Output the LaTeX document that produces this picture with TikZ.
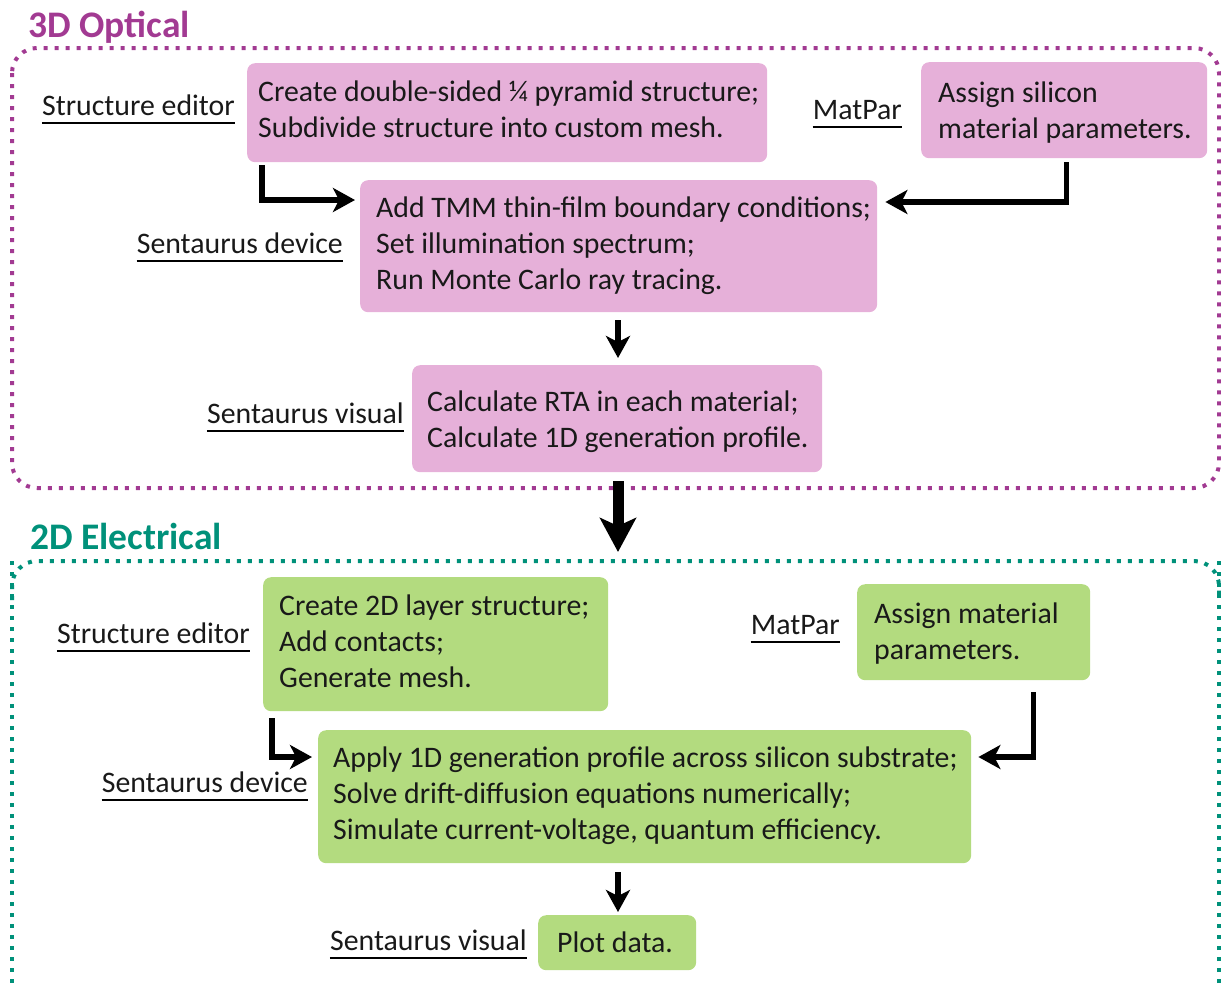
\documentclass[tikz,border=0pt]{standalone}
\usepackage{fontspec}
\setmainfont{Carlito}
\usetikzlibrary{arrows.meta,calc}
\definecolor{optc}{HTML}{A23A92}
\definecolor{elec}{HTML}{00917A}
\definecolor{pinkbox}{HTML}{E6B0D9}
\definecolor{greenbox}{HTML}{B3DB7F}
\tikzset{
  box/.style={anchor=north west, rounded corners=8pt, inner sep=0pt},
  pbox/.style={box, fill=pinkbox},
  gbox/.style={box, fill=greenbox},
  txt/.style={anchor=west, align=left, inner sep=0pt, font=\fontsize{29.8}{36}\selectfont, text=black!90},
  lbl/.style={anchor=base east, inner sep=0pt, font=\fontsize{29.8}{36}\selectfont, text=black!90},
  frame/.style={line width=4pt, dash pattern=on 4pt off 7pt, rounded corners=25pt},
  ttl/.style={anchor=base west, inner sep=0pt, font=\fontsize{37.5}{40}\selectfont\bfseries},
  arr/.style={line width=5.5pt, line join=miter, -{Stealth[length=22pt,width=24pt,inset=6pt]}},
  bigarr/.style={line width=11pt, -{Stealth[length=34pt,width=36pt,inset=8pt]}}
}
\newcommand{\uline}[1]{\draw[line width=2pt] ([yshift=-8pt]#1.base west) -- ([yshift=-8pt]#1.base east);}
\begin{document}
\begin{tikzpicture}[x=1pt,y=-1pt]
\useasboundingbox (0,0) rectangle (1221,983);
% ---------- 3D Optical ----------
\node[ttl, text=optc] (t1) at (28,37) {3D Optical};
\draw[frame, draw=optc] (12,48) rectangle (1219,488);

\node[pbox, minimum width=520, minimum height=99] (A1) at (247,63) {};
\node[txt] (A1t) at ([xshift=11pt,yshift=3pt]A1.west)
  {Create double-sided ¼ pyramid structure;\\Subdivide structure into custom mesh.};
\node[pbox, minimum width=286, minimum height=96] (A2) at (921,62) {};
\node[txt] (A2t) at ([xshift=17pt,yshift=-2pt]A2.west)
  {Assign silicon\\material parameters.};
\node[pbox, minimum width=517, minimum height=132] (B) at (360,180) {};
\node[txt] (Bt) at ([xshift=16pt,yshift=0pt]B.west)
  {Add TMM thin-film boundary conditions;\\Set illumination spectrum;\\Run Monte Carlo ray tracing.};
\node[pbox, minimum width=410, minimum height=107] (C) at (412,365) {};
\node[txt] (Ct) at ([xshift=15pt,yshift=-3pt]C.west)
  {Calculate RTA in each material;\\Calculate 1D generation profile.};

\node[lbl] (l1) at (235,115) {Structure editor}; \uline{l1}
\node[lbl] (l2) at (902,119) {MatPar}; \uline{l2}
\node[lbl] (l3) at (343,253) {Sentaurus device}; \uline{l3}
\node[lbl] (l4) at (404,423) {Sentaurus visual}; \uline{l4}

\draw[arr] ([xshift=15pt,yshift=-3pt]A1.south west) |- ([xshift=-5pt,yshift=-20pt]B.north west);
\draw[arr] ([xshift=-141pt,yshift=-4pt]A2.south east) |- ([xshift=8pt,yshift=-22pt]B.north east);
\draw[arr] ([xshift=258pt,yshift=-8pt]B.south west) -- ([yshift=7pt]C.north west -| 618,0);

% ---------- 2D Electrical ----------
\node[ttl, text=elec] (t2) at (30,549) {2D Electrical};
\draw[frame, draw=elec] (12,561) -- (12,983) (1219,983) -- (1219,561);
\draw[frame, draw=elec] (12,600) |- (1219,561) -- (1219,600);

\node[gbox, minimum width=345, minimum height=134] (D) at (263,577) {};
\node[txt] (Dt) at ([xshift=16pt,yshift=3pt]D.west)
  {Create 2D layer structure;\\Add contacts;\\Generate mesh.};
\node[gbox, minimum width=233, minimum height=96] (E) at (857,584) {};
\node[txt] (Et) at ([xshift=17pt,yshift=-1pt]E.west)
  {Assign material\\parameters.};
\node[gbox, minimum width=653, minimum height=133] (F) at (318,730) {};
\node[txt] (Ft) at ([xshift=15pt,yshift=1pt]F.west)
  {Apply 1D generation profile across silicon substrate;\\Solve drift-diffusion equations numerically;\\Simulate current-voltage, quantum efficiency.};
\node[gbox, minimum width=158, minimum height=55] (G) at (538,915) {};
\node[txt] (Gt) at ([xshift=19pt,yshift=0pt]G.west) {Plot data.};

\node[lbl] (m1) at (250,643) {Structure editor}; \uline{m1}
\node[lbl] (m2) at (840,634) {MatPar}; \uline{m2}
\node[lbl] (m3) at (308,792) {Sentaurus device}; \uline{m3}
\node[lbl] (m4) at (527,950) {Sentaurus visual}; \uline{m4}

\draw[arr] ([xshift=9pt,yshift=-7pt]D.south west) |- ([xshift=-6pt,yshift=-27pt]F.north west);
\draw[arr] ([xshift=-57pt,yshift=-12pt]E.south east) |- ([xshift=7pt,yshift=-27pt]F.north east);
\draw[arr] ([yshift=-9pt]F.south -| 618,0) -- ([yshift=3pt]G.north -| 618,0);

\draw[bigarr] ([yshift=-9pt]C.south -| 618,0) -- (618,552);
\end{tikzpicture}
\end{document}
